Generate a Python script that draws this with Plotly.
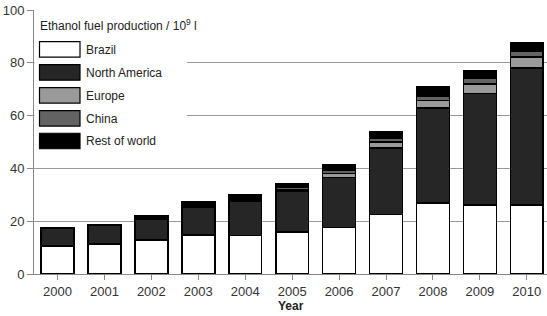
import plotly.graph_objects as go

years = ["2000", "2001", "2002", "2003", "2004", "2005", "2006", "2007", "2008", "2009", "2010"]
brazil = [10.5, 11.3, 12.8, 14.7, 14.6, 16.0, 17.6, 22.6, 27.0, 26.2, 26.2]
north_america = [6.7, 7.0, 8.1, 10.7, 13.1, 15.2, 18.9, 25.1, 35.8, 42.2, 51.8]
europe = [0.1, 0.2, 0.3, 0.5, 0.6, 0.7, 1.6, 2.2, 2.9, 3.6, 4.3]
china = [0.1, 0.1, 0.2, 0.4, 0.6, 1.0, 1.4, 1.6, 1.8, 2.2, 2.2]
rest_of_world = [0.2, 0.2, 0.7, 1.0, 1.0, 1.3, 2.0, 2.3, 3.3, 2.9, 2.9]

series_names = ["Brazil", "North America", "Europe", "China", "Rest of world"]
series_values = [brazil, north_america, europe, china, rest_of_world]
series_colors = ["#ffffff", "#262626", "#9a9a9a", "#636363", "#000000"]
y_ticks = [0, 20, 40, 60, 80, 100]
legend_title = "Ethanol fuel production / 10<sup>9</sup> l"
x_title = "Year"

W, H = 547, 316
L, R, T, B = 34, 0, 10, 41.5
pw, ph = W - L - R, H - T - B

def px_x(x):
    return (x - L) / pw

def px_y(y):
    return 1 - (y - T) / ph

fig = go.Figure()
for name, vals, col in zip(series_names, series_values, series_colors):
    fig.add_trace(go.Bar(
        x=years, y=vals, name=name,
        marker=dict(color=col, line=dict(color="#000000", width=1.6)),
        showlegend=False,
    ))

shapes = []
annotations = []
# legend background
shapes.append(dict(type="rect", xref="paper", yref="paper",
                   x0=px_x(34.5), x1=px_x(187), y0=px_y(152), y1=px_y(11),
                   fillcolor="white", line=dict(width=0), layer="above"))
annotations.append(dict(text=legend_title, xref="paper", yref="paper",
                        x=px_x(38), y=px_y(25), xanchor="left", yanchor="middle",
                        showarrow=False, font=dict(size=12, color="#222")))
row_top = [41.7, 64.8, 87.8, 110.8, 133.5]
for i, (name, col) in enumerate(zip(series_names, series_colors)):
    t = row_top[i]
    shapes.append(dict(type="rect", xref="paper", yref="paper",
                       x0=px_x(39.5), x1=px_x(80), y0=px_y(t + 15.5), y1=px_y(t),
                       fillcolor=col, line=dict(color="#000", width=1.2), layer="above"))
    annotations.append(dict(text=name, xref="paper", yref="paper",
                            x=px_x(84), y=px_y(t + 8), xanchor="left", yanchor="middle",
                            showarrow=False, font=dict(size=12, color="#222")))
annotations.append(dict(text="<b>" + x_title + "</b>", xref="paper", yref="paper",
                        x=px_x(291), y=px_y(307), xanchor="center", yanchor="middle",
                        showarrow=False, font=dict(size=12, color="#222")))

fig.update_layout(
    width=W, height=H,
    margin=dict(l=L, r=R, t=T, b=B, pad=0),
    barmode="stack", bargap=0.3,
    plot_bgcolor="white", paper_bgcolor="white",
    font=dict(family="Liberation Sans, Arial, sans-serif", size=13, color="#333"),
    shapes=shapes, annotations=annotations,
    xaxis=dict(type="category", range=[-0.5, 10.43], automargin=False,
               showline=True, linecolor="#888", linewidth=1,
               ticks="outside", ticklen=5, tickcolor="#888",
               tickfont=dict(size=13, color="#333")),
    yaxis=dict(range=[0, 100], tickvals=y_ticks, automargin=False,
               showline=True, linecolor="#888", linewidth=1,
               ticks="outside", ticklen=6, tickcolor="#888",
               showgrid=True, gridcolor="#999", gridwidth=1,
               zeroline=False,
               tickfont=dict(size=13, color="#333")),
)

fig.write_html("out.html", config={"displayModeBar": False},
               post_script="document.body.style.margin='0';document.body.style.overflow='hidden';")
